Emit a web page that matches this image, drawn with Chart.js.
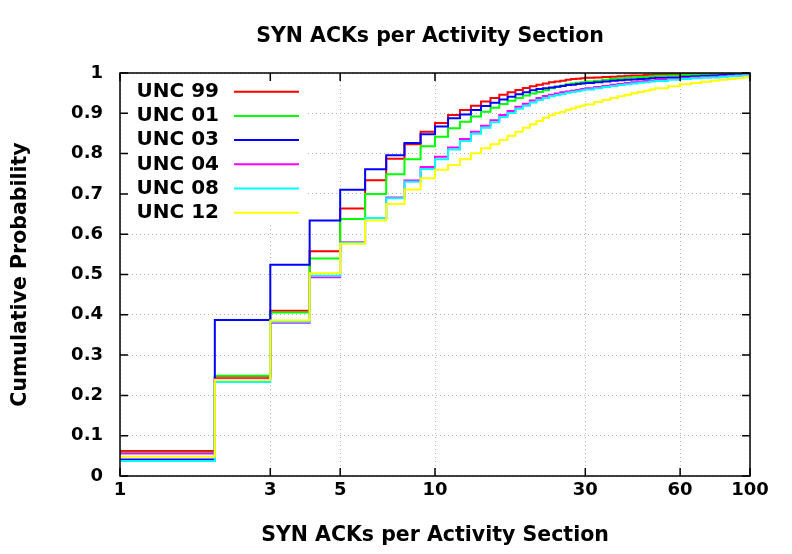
<!DOCTYPE html>
<html>
<head>
<meta charset="utf-8">
<script src="https://cdn.jsdelivr.net/npm/chart.js@4.4.1/dist/chart.umd.min.js"></script>
<style>
  html, body { margin: 0; padding: 0; background: #fff; }
  #wrap { width: 792px; height: 554px; }
</style>
</head>
<body>
<div id="wrap"><canvas id="cdf" width="792" height="554"></canvas></div>
<script>
// SYN ACK counts (x) and the cumulative share for each trace
const counts = [1, 2, 3, 4, 5, 6, 7, 8, 9, 10, 11, 12, 13, 14, 15, 16, 17, 18, 19, 20,
    21, 22, 23, 24, 25, 26, 27, 28, 29, 30, 32, 34, 36, 38, 40, 42, 44, 46, 48, 50,
    55, 60, 65, 70, 75, 80, 85, 90, 95, 100];

const unc99 = [0.062, 0.246, 0.410, 0.558, 0.664, 0.734, 0.787, 0.823, 0.854, 0.876,
    0.896, 0.908, 0.919, 0.929, 0.938, 0.946, 0.952, 0.958, 0.963, 0.967,
    0.971, 0.974, 0.977, 0.979, 0.981, 0.983, 0.985, 0.986, 0.987, 0.988,
    0.989, 0.990, 0.991, 0.992, 0.993, 0.994, 0.994, 0.995, 0.995, 0.996,
    0.997, 0.997, 0.998, 0.998, 0.998, 0.999, 0.999, 0.999, 0.999, 1.0];
const unc01 = [0.058, 0.249, 0.406, 0.540, 0.638, 0.700, 0.749, 0.786, 0.818, 0.842,
    0.863, 0.879, 0.892, 0.904, 0.914, 0.923, 0.931, 0.938, 0.944, 0.949,
    0.953, 0.957, 0.962, 0.966, 0.969, 0.972, 0.974, 0.976, 0.977, 0.979,
    0.981, 0.983, 0.985, 0.987, 0.988, 0.989, 0.990, 0.991, 0.992, 0.993,
    0.994, 0.995, 0.996, 0.997, 0.997, 0.998, 0.998, 0.999, 0.999, 1.0];
const unc03 = [0.041, 0.387, 0.524, 0.634, 0.710, 0.761, 0.796, 0.826, 0.848, 0.867,
    0.888, 0.897, 0.908, 0.918, 0.926, 0.934, 0.941, 0.947, 0.952, 0.957,
    0.960, 0.962, 0.964, 0.966, 0.968, 0.970, 0.971, 0.973, 0.974, 0.975,
    0.977, 0.979, 0.981, 0.982, 0.983, 0.984, 0.985, 0.986, 0.987, 0.988,
    0.989, 0.991, 0.992, 0.993, 0.994, 0.995, 0.996, 0.996, 0.997, 0.998];
const unc04 = [0.056, 0.241, 0.380, 0.493, 0.580, 0.640, 0.691, 0.733, 0.767, 0.792,
    0.815, 0.836, 0.854, 0.869, 0.883, 0.896, 0.906, 0.916, 0.924, 0.932,
    0.938, 0.943, 0.946, 0.949, 0.952, 0.954, 0.956, 0.958, 0.960, 0.962,
    0.965, 0.968, 0.971, 0.973, 0.975, 0.977, 0.979, 0.980, 0.981, 0.983,
    0.985, 0.987, 0.989, 0.990, 0.991, 0.992, 0.993, 0.994, 0.995, 0.996];
const unc08 = [0.037, 0.233, 0.383, 0.497, 0.579, 0.640, 0.689, 0.730, 0.762, 0.786,
    0.810, 0.831, 0.849, 0.864, 0.878, 0.891, 0.901, 0.911, 0.919, 0.927,
    0.933, 0.938, 0.942, 0.945, 0.948, 0.951, 0.953, 0.955, 0.957, 0.959,
    0.962, 0.965, 0.968, 0.970, 0.972, 0.974, 0.976, 0.977, 0.979, 0.980,
    0.983, 0.985, 0.987, 0.988, 0.989, 0.991, 0.992, 0.993, 0.994, 0.995];
const unc12 = [0.048, 0.238, 0.386, 0.503, 0.576, 0.634, 0.675, 0.711, 0.739, 0.760,
    0.772, 0.786, 0.801, 0.813, 0.823, 0.834, 0.844, 0.854, 0.864, 0.873,
    0.881, 0.889, 0.895, 0.900, 0.904, 0.908, 0.912, 0.916, 0.919, 0.922,
    0.928, 0.933, 0.938, 0.942, 0.946, 0.950, 0.953, 0.956, 0.959, 0.962,
    0.967, 0.972, 0.975, 0.978, 0.981, 0.983, 0.985, 0.987, 0.989, 0.991];

const names = ["UNC 99", "UNC 01", "UNC 03", "UNC 04", "UNC 08", "UNC 12"];
const series = [unc99, unc01, unc03, unc04, unc08, unc12];
const colors = ["#ff0000", "#00ff00", "#0000ff", "#ff00ff", "#00ffff", "#ffff00"];

const xTicks = [1, 3, 5, 10, 30, 60, 100];
const yTicks = [0, 0.1, 0.2, 0.3, 0.4, 0.5, 0.6, 0.7, 0.8, 0.9, 1];
const chartTitle = "SYN ACKs per Activity Section";

const FONT = "'DejaVu Sans', sans-serif";
Chart.defaults.font.family = FONT;
Chart.defaults.color = "#000";

/*
    gnuplot-ish frame: border with inward ticks, the key in the top left,
    and the title centred over the plot box (not the whole canvas)
*/
const frame = {
    id: "frame",
    beforeDatasetsDraw(chart) {
        const ctx = chart.ctx, a = chart.chartArea;
        ctx.save();
        ctx.fillStyle = "#fff";
        ctx.fillRect(a.left + 1, a.top + 1, 186, 148);
        ctx.restore();
    },
    afterDatasetsDraw(chart) {
        const ctx = chart.ctx, a = chart.chartArea;
        const xs = chart.scales.x, ys = chart.scales.y;
        ctx.save();
        ctx.strokeStyle = "#000";
        ctx.lineWidth = 1.5;
        ctx.strokeRect(a.left, a.top, a.right - a.left, a.bottom - a.top);
        ctx.beginPath();
        xTicks.forEach(v => {
            const px = xs.getPixelForValue(v);
            ctx.moveTo(px, a.bottom); ctx.lineTo(px, a.bottom - 8);
            ctx.moveTo(px, a.top); ctx.lineTo(px, a.top + 8);
        });
        yTicks.forEach(v => {
            const py = ys.getPixelForValue(v);
            ctx.moveTo(a.left, py); ctx.lineTo(a.left + 8, py);
            ctx.moveTo(a.right, py); ctx.lineTo(a.right - 8, py);
        });
        ctx.stroke();

        // key
        ctx.font = "bold 20px " + FONT;
        ctx.textAlign = "right";
        ctx.textBaseline = "middle";
        ctx.lineWidth = 2;
        names.forEach((n, i) => {
            const y = a.top + 18.7 + 24.2 * i;
            ctx.fillStyle = "#000";
            ctx.fillText(n, a.left + 99, y);
            ctx.strokeStyle = colors[i];
            ctx.beginPath();
            ctx.moveTo(a.left + 114, y);
            ctx.lineTo(a.left + 179, y);
            ctx.stroke();
        });

        // title
        ctx.font = "bold 20.5px " + FONT;
        ctx.textAlign = "center";
        ctx.fillStyle = "#000";
        ctx.fillText(chartTitle, (a.left + a.right) / 2 - 5, 37);
        ctx.restore();
    }
};

const datasets = series.map((s, i) => ({
    label: names[i],
    data: counts.map((c, j) => ({ x: c, y: s[j] })),
    borderColor: colors[i],
    borderWidth: 2,
    pointRadius: 0,
    fill: false,
    stepped: true,
    order: series.length - i
}));

new Chart(document.getElementById("cdf"), {
    type: "line",
    data: { datasets: datasets },
    options: {
        responsive: false,
        animation: false,
        layout: { padding: { left: 0, right: 42, top: 73, bottom: 0 } },
        plugins: {
            legend: { display: false },
            tooltip: { enabled: false },
            title: { display: false }
        },
        scales: {
            x: {
                type: "logarithmic",
                min: 1,
                max: 100,
                afterBuildTicks(scale) {
                    scale.ticks = xTicks.map(v => ({ value: v }));
                },
                afterFit(scale) { scale.height = 78; },
                ticks: {
                    autoSkip: false,
                    maxRotation: 0,
                    padding: 4,
                    font: { size: 18, weight: "bold" },
                    callback: v => String(v)
                },
                grid: { color: "#b4b4b4", lineWidth: 1, drawTicks: false },
                border: { display: false, dash: [1, 3] },
                title: {
                    display: true,
                    text: chartTitle,
                    font: { size: 20.5, weight: "bold" },
                    padding: { top: 0, bottom: 6 }
                }
            },
            y: {
                min: 0,
                max: 1,
                afterBuildTicks(scale) {
                    scale.ticks = yTicks.map(v => ({ value: v }));
                },
                afterFit(scale) { scale.width = 120; },
                ticks: {
                    padding: 17,
                    font: { size: 18, weight: "bold" },
                    callback: v => String(v)
                },
                grid: { color: "#b4b4b4", lineWidth: 1, drawTicks: false },
                border: { display: false, dash: [1, 3] },
                title: {
                    display: true,
                    text: "Cumulative Probability",
                    font: { size: 20.5, weight: "bold" },
                    padding: { top: 8, bottom: 0 }
                }
            }
        }
    },
    plugins: [frame]
});
</script>
</body>
</html>
